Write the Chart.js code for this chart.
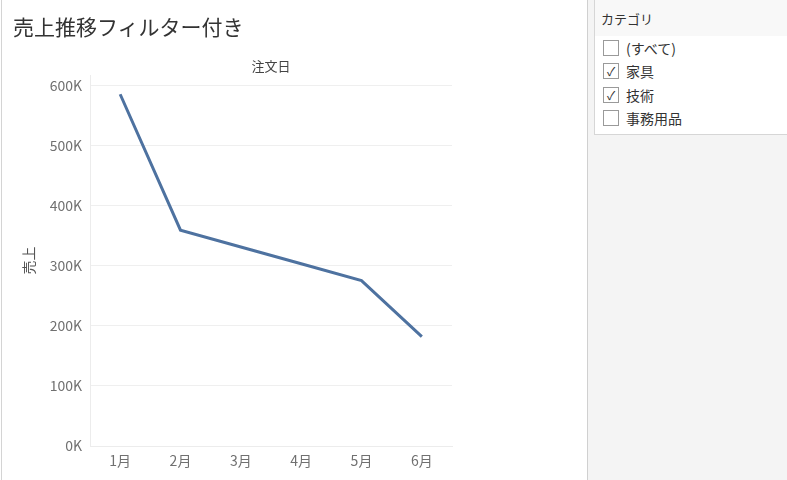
<!DOCTYPE html>
<html>
<head>
<meta charset="utf-8">
<script src="https://cdn.jsdelivr.net/npm/chart.js@4/dist/chart.umd.min.js"></script>
<style>
    html, body { margin: 0; padding: 0; background: #fff; }
    body { width: 787px; height: 480px; position: relative; overflow: hidden; font-family: "Noto Sans CJK JP", "Noto Sans", sans-serif; }
    #leftEdge { position: absolute; left: 1px; top: 0; width: 1px; height: 480px; background: #d4d4d4; }
    #title { position: absolute; left: 13px; top: 11px; font-size: 21px; color: #333; white-space: nowrap; }
    #xTitle { position: absolute; left: 90px; width: 362px; top: 56px; text-align: center; font-size: 13px; color: #444; }
    #chartWrap { position: absolute; left: 0; top: 0; width: 587px; height: 480px; }
    #side { position: absolute; left: 587px; top: 0; width: 200px; height: 480px; background: #f4f4f4; border-left: 1px solid #d0d0d0; box-sizing: border-box; }
    #filterBox { position: absolute; left: 6px; top: 0; width: 194px; height: 135px; background: #fff; border-left: 1px solid #d6d6d6; border-bottom: 1px solid #d6d6d6; box-sizing: border-box; }
    #filterHead { height: 36px; background: #f8f8f8; font-size: 13px; color: #333; padding: 9px 0 0 6px; box-sizing: border-box; }
    .row { position: absolute; left: 8px; height: 20px; font-size: 14px; color: #333; }
    .box { position: absolute; left: 0; top: 1px; width: 16px; height: 16px; border: 1px solid #9a9a9a; box-sizing: border-box; background: #fff; font-size: 12px; line-height: 14px; text-align: center; color: #333; }
    .lbl { position: absolute; left: 23px; top: -1px; white-space: nowrap; }
</style>
</head>
<body>
<div id="leftEdge"></div>
<div id="chartWrap"><canvas id="salesChart"></canvas></div>
<div id="title">売上推移フィルター付き</div>
<div id="xTitle">注文日</div>
<div id="side">
    <div id="filterBox">
        <div id="filterHead">カテゴリ</div>
        <div id="filterRows"></div>
    </div>
</div>
<script>
// data
const months = ['1月', '2月', '3月', '4月', '5月', '6月'];
const sales = [585000, 359000, 331000, 303000, 275000, 182000];
const yTicks = [0, 100000, 200000, 300000, 400000, 500000, 600000];
const filterItems = ['(すべて)', '家具', '技術', '事務用品'];
const filterChecked = [false, true, true, false];

document.addEventListener("DOMContentLoaded", () => {
    // filter list
    const rows = document.getElementById('filterRows');
    filterItems.forEach((name, i) => {
        const row = document.createElement('div');
        row.className = 'row';
        row.style.top = (39 + i * 23.3) + 'px';
        row.innerHTML = '<div class="box">' + (filterChecked[i] ? '✓' : '') + '</div><div class="lbl">' + name + '</div>';
        rows.appendChild(row);
    });

    const ctx = document.getElementById('salesChart').getContext('2d');
    const tickFont = { family: '"Noto Sans CJK JP", "Noto Sans", sans-serif', size: 14 };

    new Chart(ctx, {
        type: 'line',
        data: {
            labels: months,
            datasets: [{
                data: sales,
                borderColor: '#4e72a0',
                borderWidth: 3,
                pointRadius: 0,
                tension: 0,
                fill: false
            }]
        },
        options: {
            responsive: true,
            maintainAspectRatio: false,
            animation: false,
            layout: { padding: { top: 75, right: 135, bottom: 0, left: 0 } },
            plugins: { legend: { display: false }, tooltip: { enabled: false } },
            scales: {
                x: {
                    offset: true,
                    grid: { display: false, drawTicks: false },
                    border: { display: true, color: '#ececec', width: 1 },
                    ticks: { color: '#707070', font: tickFont, padding: 6 },
                    afterFit: (scale) => { scale.height = 34; }
                },
                y: {
                    min: 0,
                    max: 617000,
                    grid: { color: '#efefef', drawTicks: false },
                    border: { display: true, color: '#ececec', width: 1 },
                    title: {
                        display: true,
                        text: '売上',
                        color: '#555',
                        font: { family: '"Noto Sans CJK JP", sans-serif', size: 14 },
                        padding: { top: 20, bottom: 0 }
                    },
                    ticks: {
                        color: '#707070',
                        font: tickFont,
                        padding: 8,
                        callback: (v) => (v / 1000) + 'K'
                    },
                    afterBuildTicks: (axis) => { axis.ticks = yTicks.map(v => ({ value: v })); },
                    afterFit: (scale) => { scale.width = 90; }
                }
            }
        }
    });
});
</script>
</body>
</html>
